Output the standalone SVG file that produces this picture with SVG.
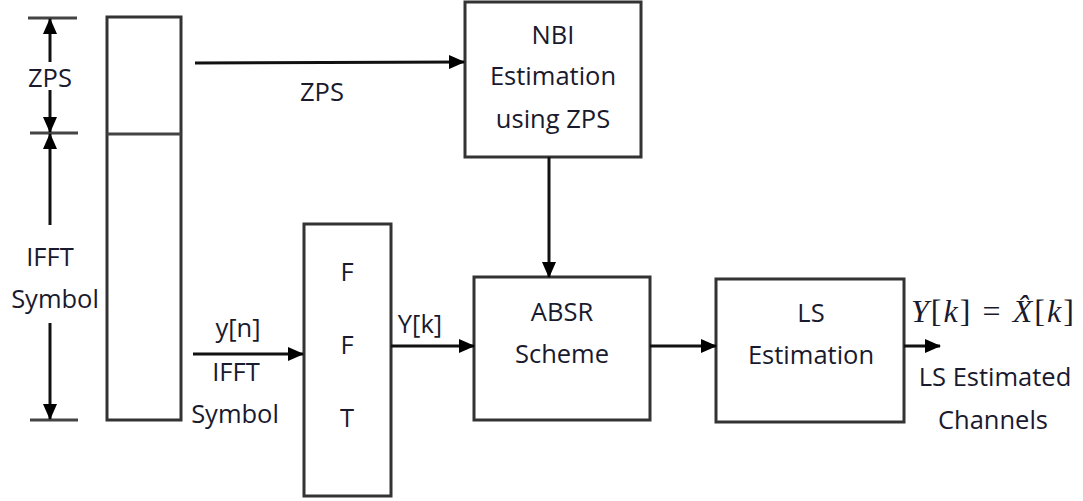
<svg xmlns="http://www.w3.org/2000/svg" width="1083" height="501" viewBox="0 0 1083 501">
<defs>
<marker id="ah" markerWidth="16" markerHeight="14" refX="15" refY="7" orient="auto" markerUnits="userSpaceOnUse">
<path d="M0,0 L16,7 L0,14 Z" fill="#000"/>
</marker>
<style>
.box{fill:#fff;stroke:#333;stroke-width:3}
.ln{stroke:#111;stroke-width:3;fill:none}
.tk{stroke:#444;stroke-width:3}
.t{font-family:"Open Sans","Liberation Sans",sans-serif;font-size:25.5px;fill:#1a1a2e;text-anchor:middle}
.m{font-family:"Liberation Serif",serif;font-size:32px;fill:#1a1a2e}
</style>
</defs>
<rect width="1083" height="501" fill="#fff"/>
<g id="symbol">
<rect class="box" x="107" y="17" width="74" height="403"/>
<line class="tk" x1="107" y1="134" x2="181" y2="134"/>
</g>
<g id="dimension">
<line class="tk" x1="28" y1="18" x2="77" y2="18"/>
<line class="tk" x1="30" y1="133" x2="78" y2="133"/>
<line class="tk" x1="30" y1="420" x2="78" y2="420"/>
<line class="ln" x1="50" y1="62" x2="50" y2="19" marker-end="url(#ah)"/>
<line class="ln" x1="50" y1="90" x2="50" y2="132" marker-end="url(#ah)"/>
<line class="ln" x1="50" y1="225" x2="50" y2="134" marker-end="url(#ah)"/>
<line class="ln" x1="50" y1="323" x2="50" y2="419" marker-end="url(#ah)"/>
<text class="t" x="50" y="87">ZPS</text>
<text class="t" x="50" y="266">IFFT</text>
<text class="t" x="55" y="308">Symbol</text>
</g>
<g id="nbi">
<rect class="box" x="465" y="2" width="176" height="155"/>
<text class="t" x="553" y="44">NBI</text>
<text class="t" x="553" y="85">Estimation</text>
<text class="t" x="553" y="128">using ZPS</text>
</g>
<g id="fft">
<rect class="box" x="304" y="224" width="87" height="272"/>
<text class="t" x="347" y="281">F</text>
<text class="t" x="347" y="354">F</text>
<text class="t" x="347" y="427">T</text>
</g>
<g id="absr">
<rect class="box" x="474" y="277" width="176" height="143"/>
<text class="t" x="562" y="321">ABSR</text>
<text class="t" x="562" y="363">Scheme</text>
</g>
<g id="ls">
<rect class="box" x="716" y="279" width="188" height="143"/>
<text class="t" x="811" y="322">LS</text>
<text class="t" x="811" y="364">Estimation</text>
</g>
<g id="connectors">
<line class="ln" x1="195" y1="63" x2="464" y2="62" marker-end="url(#ah)"/>
<line class="ln" x1="549" y1="157" x2="549" y2="277" marker-end="url(#ah)"/>
<line class="ln" x1="193" y1="354" x2="303" y2="354" marker-end="url(#ah)"/>
<line class="ln" x1="391" y1="346" x2="474" y2="346" marker-end="url(#ah)"/>
<line class="ln" x1="650" y1="346" x2="716" y2="346" marker-end="url(#ah)"/>
<line class="ln" x1="904" y1="346" x2="940" y2="346" marker-end="url(#ah)"/>
</g>
<g id="labels">
<text class="t" x="322" y="101">ZPS</text>
<text class="t" x="238" y="337">y[n]</text>
<text class="t" x="236" y="381">IFFT</text>
<text class="t" x="235" y="423">Symbol</text>
<text class="t" x="420" y="333">Y[k]</text>
<text class="m" x="911" y="322" textLength="163" lengthAdjust="spacing"><tspan font-style="italic">Y</tspan>[<tspan font-style="italic">k</tspan>]  =  <tspan font-style="italic">X̂</tspan>[<tspan font-style="italic">k</tspan>]</text>
<text class="t" x="995" y="386">LS Estimated</text>
<text class="t" x="993" y="429">Channels</text>
</g>
</svg>
